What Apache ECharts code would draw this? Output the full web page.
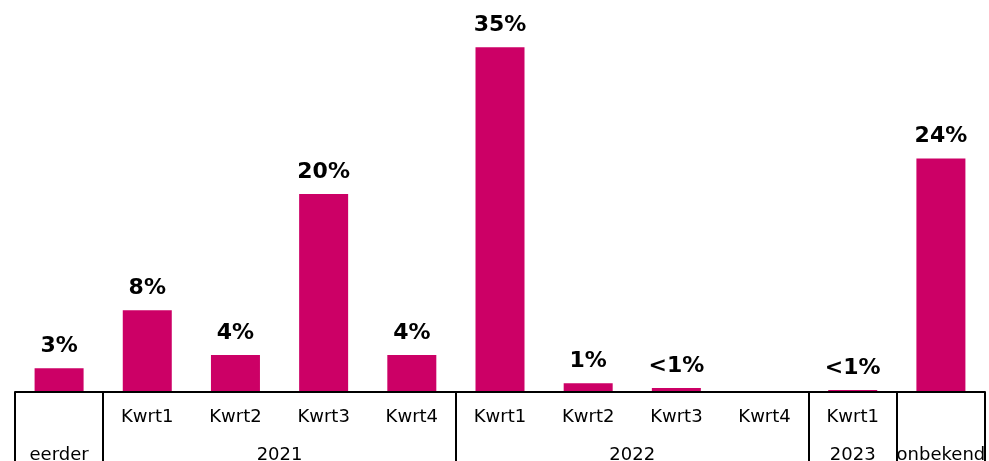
<!DOCTYPE html>
<html>
<head>
<meta charset="utf-8">
<script src="https://cdn.jsdelivr.net/npm/echarts@6/dist/echarts.min.js"></script>
<style>
  html, body { margin: 0; padding: 0; background: #fff; }
  #chart { width: 989px; height: 461px; }
</style>
</head>
<body>
<div id="chart"></div>
<script>
// categorieen (kwartalen) en waarden in %
var categories = ["eerder", "2021K1", "2021K2", "2021K3", "2021K4", "2022K1", "2022K2", "2022K3", "2022K4", "2023K1", "onbekend"];
var quarterLabels = ["", "Kwrt1", "Kwrt2", "Kwrt3", "Kwrt4", "Kwrt1", "Kwrt2", "Kwrt3", "Kwrt4", "Kwrt1", ""];
var values = [2.4, 8.3, 3.75, 20.1, 3.75, 35, 0.9, 0.4, null, 0.2, 23.7];
var valueLabels = ["3%", "8%", "4%", "20%", "4%", "35%", "1%", "<1%", "", "<1%", "24%"];
// groepen op de tweede as (posities in categorie-eenheden)
var groupNames = ["eerder", "2021", "2022", "2023", "onbekend"];
var groupCenters = [0.5, 3, 7, 9.5, 10.5];
var groupBounds = [0, 1, 5, 9, 10, 11];

var font = "DejaVu Sans";
var chart = echarts.init(document.getElementById("chart"));

chart.setOption({
  animation: false,
  grid: { left: 15, right: 4, top: 0, bottom: 69, outerBoundsMode: "none", containLabel: false },
  xAxis: [
    {
      type: "category",
      data: categories,
      position: "bottom",
      z: 3,
      axisLine: { lineStyle: { color: "#000", width: 2 } },
      axisTick: { show: false },
      axisLabel: {
        interval: 0,
        margin: 16,
        color: "#000",
        fontFamily: font,
        fontSize: 18,
        formatter: function (v, i) { return quarterLabels[i]; }
      }
    },
    {
      type: "value",
      min: 0,
      max: 11,
      position: "bottom",
      axisLine: { show: false },
      splitLine: { show: false },
      axisTick: {
        show: true,
        length: 75,
        customValues: groupBounds,
        lineStyle: { color: "#000", width: 2 }
      },
      axisLabel: {
        margin: 54,
        color: "#000",
        fontFamily: font,
        fontSize: 18,
        customValues: groupCenters,
        formatter: function (v) {
          var i = groupCenters.indexOf(v);
          return i >= 0 ? groupNames[i] : "";
        }
      }
    }
  ],
  yAxis: {
    type: "value",
    min: 0,
    max: 39.8,
    show: false
  },
  series: [
    {
      type: "bar",
      xAxisIndex: 0,
      data: values,
      barWidth: 49,
      itemStyle: { color: "#CC0066" },
      label: {
        show: true,
        position: "top",
        distance: 11,
        color: "#000",
        fontFamily: font,
        fontWeight: "bold",
        fontSize: 22,
        formatter: function (p) { return valueLabels[p.dataIndex]; }
      }
    }
  ]
});
</script>
</body>
</html>
